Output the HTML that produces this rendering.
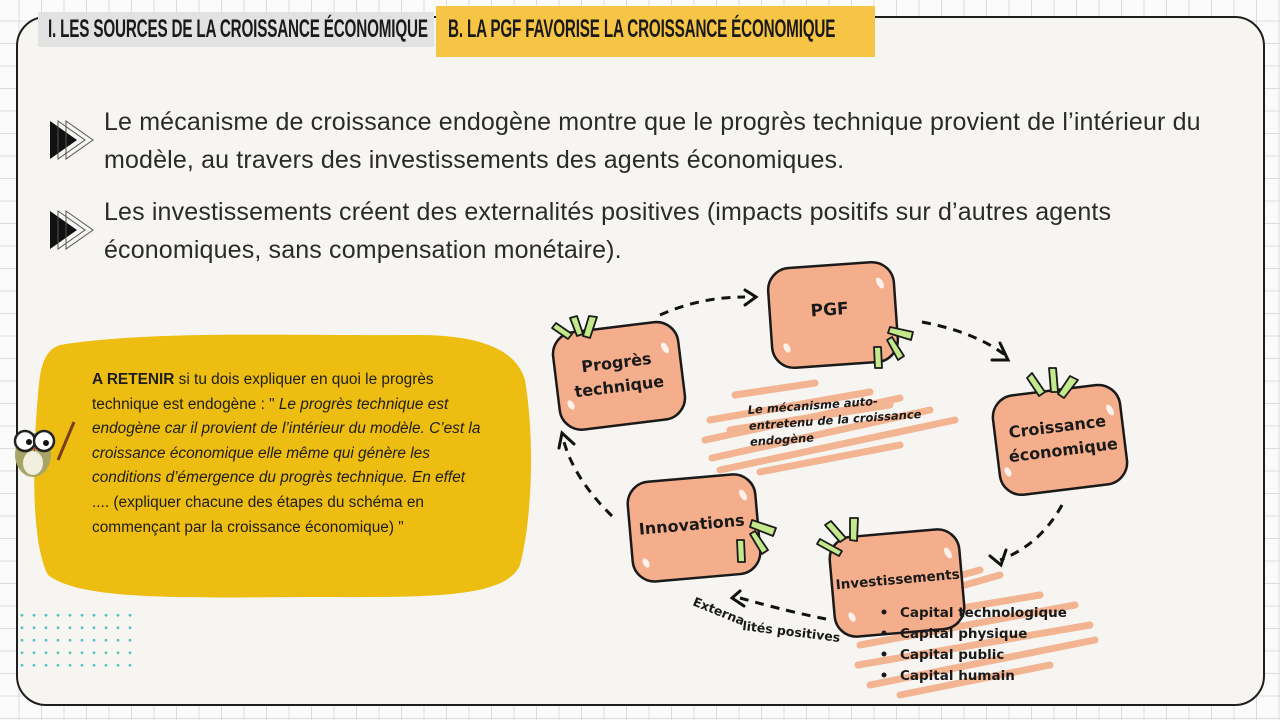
<!DOCTYPE html>
<html><head><meta charset="utf-8">
<style>
html,body{margin:0;padding:0}
body{width:1280px;height:720px;position:relative;overflow:hidden;font-family:"Liberation Sans","DejaVu Sans",sans-serif;
background-color:#fbfbfb;
background-image:linear-gradient(#dcdcdc 1px,transparent 1px),linear-gradient(90deg,#dcdcdc 1px,transparent 1px);
background-size:22.5px 22.5px;background-position:-4px -2px}
.panel{position:absolute;left:16px;top:16px;width:1245px;height:686px;border:2.5px solid #1e1e1e;border-radius:30px;background:#f6f5f1}
.tab{position:absolute;font-family:"Liberation Sans",sans-serif;font-weight:bold;color:#1a1a1a;font-size:25px;white-space:nowrap;overflow:hidden}
.t1{left:38px;top:12px;width:396px;height:35px;background:#e2e2e2}
.t2{left:436px;top:6px;width:439px;height:51px;background:#f7c545}
.tab span{position:absolute;top:3px;display:inline-block;transform:scaleX(.61);transform-origin:0 0;letter-spacing:-.3px}
.t2 span{top:9px}
.bul{position:absolute;left:104px;font-size:25px;line-height:38px;color:#2a2a2a;white-space:nowrap;letter-spacing:.15px}
.note{position:absolute;left:92px;top:368px;font-size:15.4px;line-height:24.6px;color:#1d1d1d;white-space:nowrap}
</style></head><body>
<div class="panel"></div>
<div class="tab t1"><span style="left:10px">I. LES SOURCES DE LA CROISSANCE ÉCONOMIQUE</span></div>
<div class="tab t2"><span style="left:12px">B. LA PGF FAVORISE LA CROISSANCE ÉCONOMIQUE</span></div>

<svg style="position:absolute;left:0;top:0" width="1280" height="720">
 <g>
  <polygon points="50,121 77,140 50,159" fill="#111"/>
  <polygon points="58,121 85,140 58,159" fill="none" stroke="#555" stroke-width="1"/>
  <polygon points="66,121 93,140 66,159" fill="none" stroke="#555" stroke-width="1"/>
  <polygon points="50,211 77,230 50,249" fill="#111"/>
  <polygon points="58,211 85,230 58,249" fill="none" stroke="#555" stroke-width="1"/>
  <polygon points="66,211 93,230 66,249" fill="none" stroke="#555" stroke-width="1"/>
 </g>
 <path d="M60,345 C150,330 300,336 410,335 C470,334 515,345 525,380 C535,440 532,520 520,565 C505,600 420,597 300,597 C180,598 80,600 48,575 C30,540 33,450 38,395 C40,365 45,350 60,345Z" fill="#edbd12"/>
 <g>
  <line x1="58" y1="460" x2="74" y2="422" stroke="#7a3e1a" stroke-width="3"/>
  <ellipse cx="33" cy="455" rx="18" ry="22" fill="#a6a466"/>
  <ellipse cx="33" cy="463" rx="10" ry="12" fill="#f2efe0"/>
  <circle cx="25" cy="441" r="10" fill="#fff" stroke="#222" stroke-width="2.5"/>
  <circle cx="44" cy="441" r="10" fill="#fff" stroke="#222" stroke-width="2.5"/>
  <circle cx="29" cy="442" r="3" fill="#111"/><circle cx="46" cy="443" r="3" fill="#111"/>
  <path d="M33,448 l3,0 l-1.5,4z" fill="#c0453a"/>
 </g>
 <g stroke="#f2b08c" stroke-width="7" stroke-linecap="round" fill="none" opacity=".95">
  <path d="M735,395 L815,383 M710,420 L870,392 M705,440 L900,398 M712,458 L930,410 M720,470 L955,420 M760,472 L900,445 M730,430 L890,405"/>
  <path d="M870,600 L980,570 M860,625 L1040,595 M860,645 L1075,605 M858,665 L1090,625 M870,685 L1095,640 M900,695 L1050,665 M965,585 L1000,575"/>
 </g>
 <g stroke="#111" stroke-width="3" fill="none" stroke-dasharray="9,7">
  <path d="M660,315 Q700,297 745,297"/>
  <path d="M922,322 Q975,332 1005,355"/>
  <path d="M1062,505 Q1040,545 1000,560"/>
  <path d="M826,619 Q790,612 740,598"/>
  <path d="M612,516 Q575,480 564,442"/>
 </g>
 <g stroke="#111" stroke-width="3" fill="none" stroke-linecap="round">
  <path d="M745,290 L756,297 L745,305"/>
  <path d="M1000,343 L1008,360 L992,360"/>
  <path d="M990,556 L1001,565 L1006,550"/>
  <path d="M740,591 L732,598 L744,606"/>
  <path d="M559,448 L562,433 L574,444"/>
 </g>
 <g font-family="'DejaVu Sans','Liberation Sans',sans-serif" font-weight="bold" fill="#1a1a1a">
  <g transform="rotate(-7 618 376)">
   <rect x="556" y="327" width="126" height="98" rx="22" fill="#f4ae8b" stroke="#1a1a1a" stroke-width="2.5"/>
   <text x="618" y="368" font-size="16" text-anchor="middle">Progrès</text>
   <text x="618" y="392" font-size="16" text-anchor="middle">technique</text>
  </g>
  <g transform="rotate(-4 833 315)">
   <rect x="770" y="265" width="126" height="100" rx="22" fill="#f4ae8b" stroke="#1a1a1a" stroke-width="2.5"/>
   <text x="830" y="315" font-size="17" text-anchor="middle">PGF</text>
  </g>
  <g transform="rotate(-7 1059 440)">
   <rect x="996" y="390" width="128" height="100" rx="22" fill="#f4ae8b" stroke="#1a1a1a" stroke-width="2.5"/>
   <text x="1059" y="432" font-size="16" text-anchor="middle">Croissance</text>
   <text x="1062" y="456" font-size="16" text-anchor="middle">économique</text>
  </g>
  <g transform="rotate(-5 693 528)">
   <rect x="630" y="478" width="128" height="100" rx="22" fill="#f4ae8b" stroke="#1a1a1a" stroke-width="2.5"/>
   <text x="692" y="530" font-size="16" text-anchor="middle">Innovations</text>
  </g>
  <g transform="rotate(-5 897 583)">
   <rect x="832" y="533" width="130" height="100" rx="22" fill="#f4ae8b" stroke="#1a1a1a" stroke-width="2.5"/>
   <text x="898" y="584" font-size="13.5" text-anchor="middle">Investissements</text>
  </g>
  <g fill="#fff" opacity=".85">
   <ellipse cx="665" cy="348" rx="3" ry="6" transform="rotate(-30 665 348)"/><ellipse cx="571" cy="405" rx="3" ry="5" transform="rotate(-30 571 405)"/>
   <ellipse cx="880" cy="283" rx="3" ry="6" transform="rotate(-30 880 283)"/><ellipse cx="787" cy="348" rx="3" ry="5" transform="rotate(-30 787 348)"/>
   <ellipse cx="1110" cy="410" rx="3" ry="6" transform="rotate(-30 1110 410)"/><ellipse cx="1008" cy="472" rx="3" ry="5" transform="rotate(-30 1008 472)"/>
   <ellipse cx="743" cy="495" rx="3" ry="6" transform="rotate(-30 743 495)"/><ellipse cx="646" cy="563" rx="3" ry="5" transform="rotate(-30 646 563)"/>
   <ellipse cx="948" cy="553" rx="3" ry="6" transform="rotate(-30 948 553)"/><ellipse cx="852" cy="617" rx="3" ry="5" transform="rotate(-30 852 617)"/>
  </g>
  <text transform="translate(748,414) rotate(-4)" font-size="11.5" font-style="italic"><tspan x="0" y="0">Le mécanisme auto-</tspan><tspan x="0" y="16">entretenu de la croissance</tspan><tspan x="0" y="32">endogène</tspan></text>
  <text transform="translate(692,605) rotate(22)" font-size="12.5">Externa</text>
  <text transform="translate(742,630) rotate(7)" font-size="12.5">lités positives</text>
  <g font-size="13.5">
   <text x="900" y="617">Capital technologique</text>
   <text x="900" y="638">Capital physique</text>
   <text x="900" y="659">Capital public</text>
   <text x="900" y="680">Capital humain</text>
   <circle cx="884" cy="612" r="2.5"/><circle cx="884" cy="633" r="2.5"/><circle cx="884" cy="654" r="2.5"/><circle cx="884" cy="675" r="2.5"/>
  </g>
 </g>
 <g fill="#c4e98c" stroke="#1a1a1a" stroke-width="1.8" stroke-linejoin="round">
  <polygon points="552,328 556,323 572,334 568,339"/><polygon points="570,318 577,316 583,334 577,336"/><polygon points="589,316 597,317 590,338 583,336"/>
  <polygon points="888,333 890,327 913,332 911,340"/><polygon points="887,340 892,337 904,356 898,360"/><polygon points="874,347 881,347 882,368 875,368"/>
  <polygon points="1027,378 1032,373 1045,392 1039,396"/><polygon points="1049,368 1056,368 1058,392 1051,392"/><polygon points="1070,376 1078,380 1064,398 1058,394"/>
  <polygon points="750,527 752,520 776,528 773,536"/><polygon points="750,534 755,531 768,550 762,554"/><polygon points="737,540 744,540 745,562 738,562"/>
  <polygon points="817,544 820,539 842,551 839,556"/><polygon points="825,525 831,521 846,538 840,542"/><polygon points="850,518 858,518 857,541 850,540"/>
 </g>
</svg>
<div class="bul" style="top:103px">Le mécanisme de croissance endogène montre que le progrès technique provient de l’intérieur du<br>modèle, au travers des investissements des agents économiques.</div>
<div class="bul" style="top:193px">Les investissements créent des externalités positives (impacts positifs sur d’autres agents<br>économiques, sans compensation monétaire).</div>
<div class="note"><b>A RETENIR</b> si tu dois expliquer en quoi le progrès<br>technique est endogène : " <i>Le progrès technique est</i><br><i>endogène car il provient de l’intérieur du modèle. C’est la</i><br><i>croissance économique elle même qui génère les</i><br><i>conditions d’émergence du progrès technique. En effet</i><br>.... (expliquer chacune des étapes du schéma en<br>commençant par la croissance économique) "</div>
<div style="position:absolute;left:16px;top:609px;width:120px;height:66px;background-image:radial-gradient(circle,#52c2c2 1.2px,transparent 1.6px);background-size:12px 12.5px"></div>
</body></html>
